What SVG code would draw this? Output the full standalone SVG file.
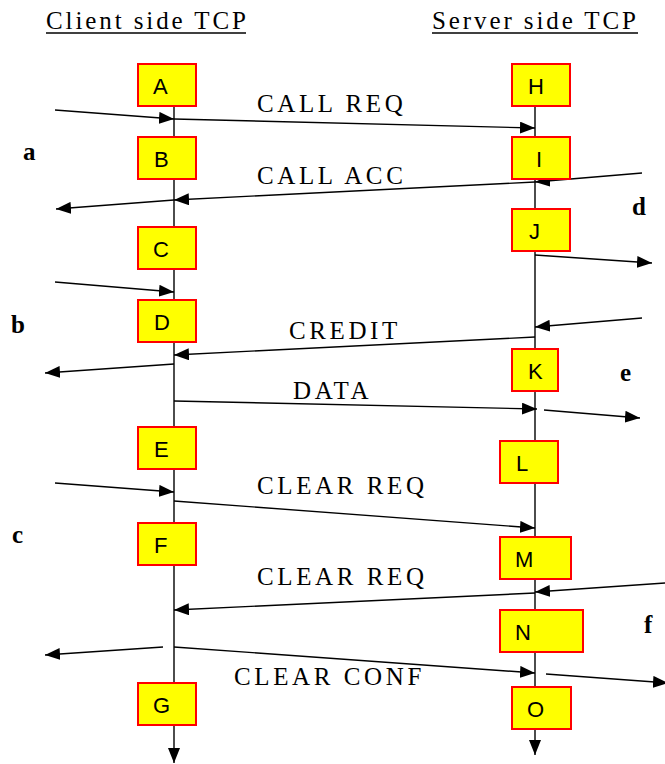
<svg xmlns="http://www.w3.org/2000/svg" width="665" height="764" viewBox="0 0 665 764">
<defs>
<marker id="ah" markerUnits="userSpaceOnUse" markerWidth="15" markerHeight="12" refX="15" refY="6" orient="auto">
<path d="M0,0 L15,6 L0,12 z" fill="#000"/>
</marker>
<style>
.box{fill:#FFFF00;stroke:#FF0000;stroke-width:2}
.bl{font-family:"Liberation Sans",Arial,sans-serif;font-size:22px;fill:#000}
.msg{font-family:"Liberation Serif","Times New Roman",serif;font-size:25px;letter-spacing:3.6px;fill:#000}
.hd{font-family:"Liberation Serif","Times New Roman",serif;font-size:25px;letter-spacing:2.9px;fill:#000}
.lt{font-family:"Liberation Serif","Times New Roman",serif;font-size:25px;font-weight:bold;fill:#000}
.ar{stroke:#000;stroke-width:1.4;fill:none;marker-end:url(#ah)}
</style>
</defs>
<rect width="665" height="764" fill="#fff"/>
<g id="headings">
<text class="hd" x="46" y="29">Client side TCP</text>
<line x1="46" y1="33" x2="246" y2="33" stroke="#000" stroke-width="1.4"/>
<text class="hd" x="432" y="29">Server side TCP</text>
<line x1="432" y1="33" x2="638" y2="33" stroke="#000" stroke-width="1.4"/>
</g>
<g id="connectors">
<line class="ar" x1="174" y1="105" x2="174" y2="763"/>
<line class="ar" x1="535" y1="105" x2="535" y2="755"/>
<line class="ar" x1="55" y1="110" x2="174" y2="119"/>
<line class="ar" x1="174" y1="119" x2="535" y2="128"/>
<line class="ar" x1="642" y1="173" x2="535" y2="182"/>
<line class="ar" x1="535" y1="182" x2="174" y2="200"/>
<line class="ar" x1="174" y1="200" x2="56" y2="209"/>
<line class="ar" x1="535" y1="255" x2="652" y2="263"/>
<line class="ar" x1="55" y1="282" x2="174" y2="292"/>
<line class="ar" x1="642" y1="318" x2="535" y2="327"/>
<line class="ar" x1="535" y1="337" x2="174" y2="355"/>
<line class="ar" x1="174" y1="364" x2="45" y2="373"/>
<line class="ar" x1="174" y1="401" x2="537" y2="409"/>
<line class="ar" x1="544" y1="410" x2="640" y2="418"/>
<line class="ar" x1="55" y1="483" x2="174" y2="492"/>
<line class="ar" x1="174" y1="501" x2="535" y2="528"/>
<line class="ar" x1="665" y1="583" x2="535" y2="592"/>
<line class="ar" x1="535" y1="593" x2="174" y2="610"/>
<line class="ar" x1="163" y1="647" x2="45" y2="655"/>
<line class="ar" x1="174" y1="647" x2="535" y2="673"/>
<line class="ar" x1="546" y1="674" x2="668" y2="683"/>
</g>
<g id="labels">
<text class="msg" x="257" y="112">CALL REQ</text>
<text class="msg" x="257" y="184">CALL ACC</text>
<text class="msg" x="289" y="339">CREDIT</text>
<text class="msg" x="293" y="399">DATA</text>
<text class="msg" x="257" y="494">CLEAR REQ</text>
<text class="msg" x="257" y="585">CLEAR REQ</text>
<text class="msg" x="234" y="685">CLEAR CONF</text>
<text class="lt" x="23" y="160">a</text>
<text class="lt" x="11" y="333">b</text>
<text class="lt" x="12" y="543">c</text>
<text class="lt" x="632" y="215">d</text>
<text class="lt" x="620" y="381">e</text>
<text class="lt" x="644" y="633">f</text>
</g>
<g id="A"><rect class="box" x="138" y="64" width="58" height="42"/><text class="bl" x="153" y="94">A</text></g>
<g id="B"><rect class="box" x="138" y="137" width="58" height="42"/><text class="bl" x="154" y="167">B</text></g>
<g id="C"><rect class="box" x="138" y="227" width="58" height="42"/><text class="bl" x="153" y="257">C</text></g>
<g id="D"><rect class="box" x="138" y="300" width="58" height="42"/><text class="bl" x="154" y="330">D</text></g>
<g id="E"><rect class="box" x="138" y="427" width="58" height="42"/><text class="bl" x="154" y="457">E</text></g>
<g id="F"><rect class="box" x="138" y="523" width="58" height="42"/><text class="bl" x="154" y="553">F</text></g>
<g id="G"><rect class="box" x="138" y="683" width="58" height="42"/><text class="bl" x="153" y="713">G</text></g>
<g id="H"><rect class="box" x="512" y="64" width="58" height="42"/><text class="bl" x="528" y="94">H</text></g>
<g id="I"><rect class="box" x="512" y="137" width="58" height="42"/><text class="bl" x="536" y="167">I</text></g>
<g id="J"><rect class="box" x="512" y="209" width="58" height="42"/><text class="bl" x="529" y="239">J</text></g>
<g id="K"><rect class="box" x="512" y="349" width="46" height="42"/><text class="bl" x="528" y="379">K</text></g>
<g id="L"><rect class="box" x="500" y="441" width="58" height="42"/><text class="bl" x="516" y="471">L</text></g>
<g id="M"><rect class="box" x="500" y="537" width="71" height="42"/><text class="bl" x="515" y="567">M</text></g>
<g id="N"><rect class="box" x="500" y="610" width="83" height="42"/><text class="bl" x="515" y="640">N</text></g>
<g id="O"><rect class="box" x="512" y="687" width="59" height="42"/><text class="bl" x="527" y="717">O</text></g>
</svg>
